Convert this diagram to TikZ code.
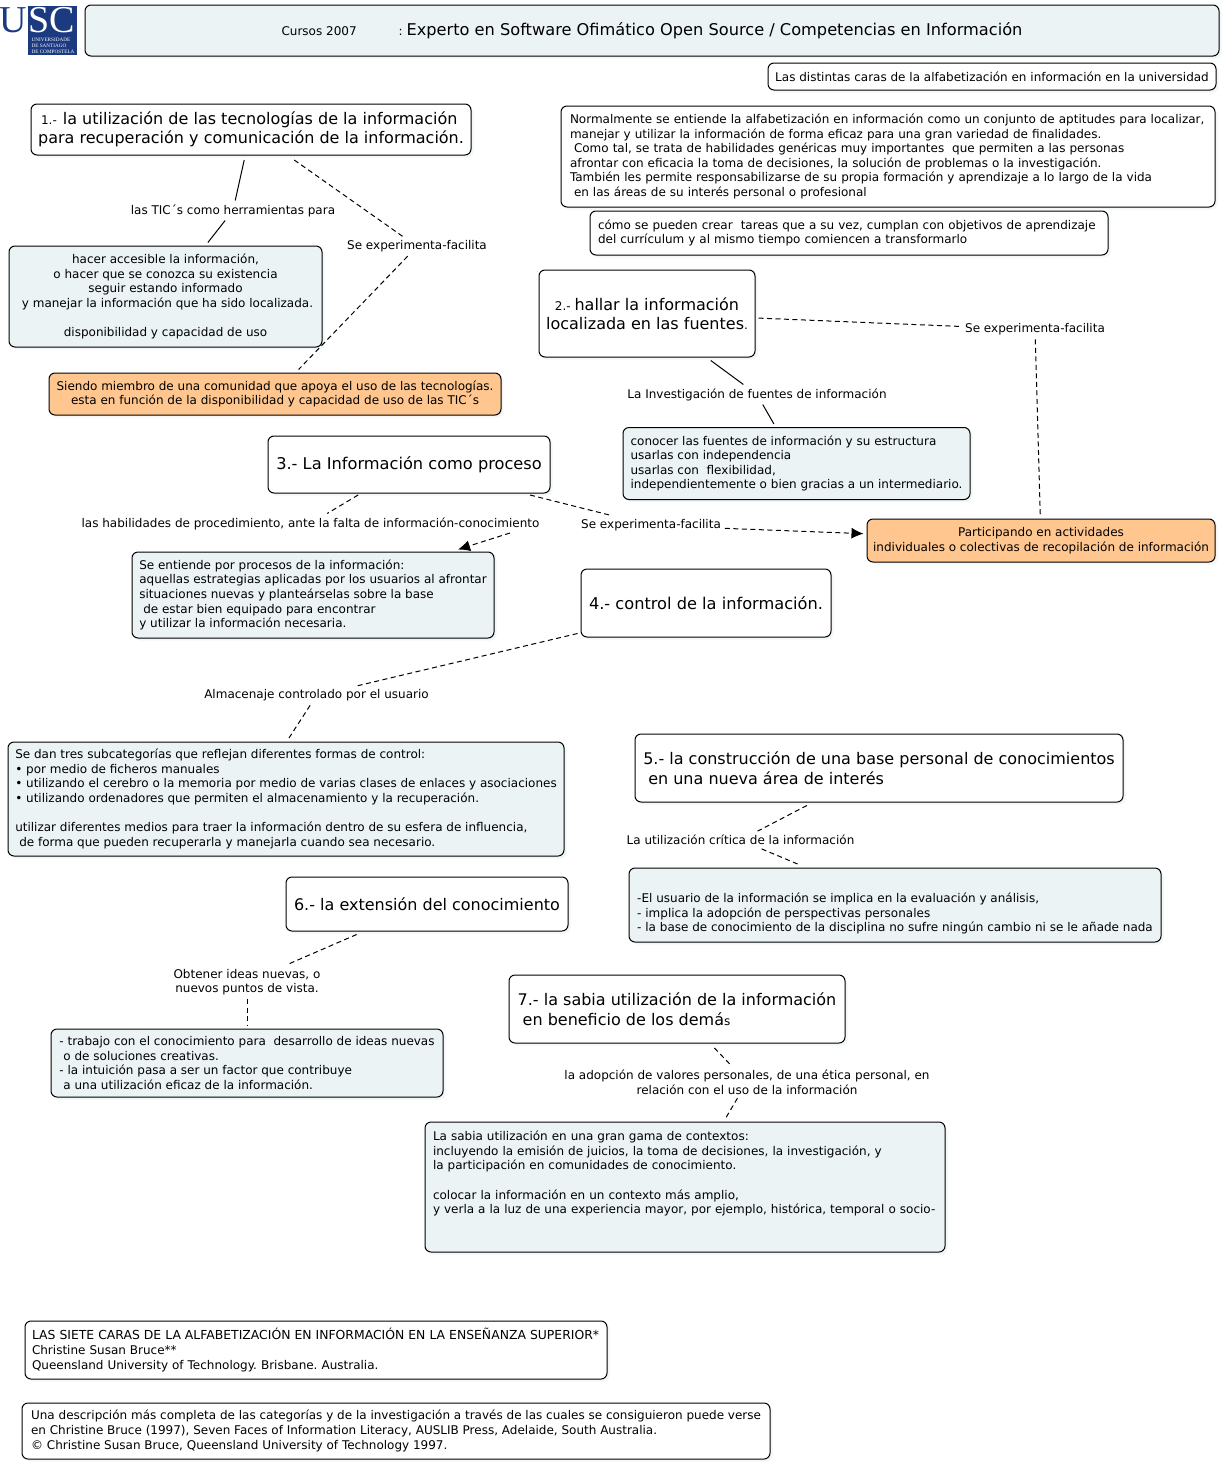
\documentclass[tikz,border=0pt]{standalone}
\usepackage{fontspec}
\setmainfont{DejaVu Sans}
\newfontfamily\logofont{Liberation Serif}
\usetikzlibrary{arrows.meta,shadows}
\definecolor{paleblue}{HTML}{EBF3F5}
\definecolor{paleorange}{HTML}{FFC78F}
\definecolor{uscnavy}{HTML}{1B3A80}
\newcommand{\smtxt}[1]{{\fontsize{12}{14.6}\selectfont #1}}
\newcommand{\blankline}{\rule{0pt}{12pt}}
\frenchspacing
\begin{document}
\begin{tikzpicture}[
    x=1pt, y=-1pt,
    txtsmall/.style={font=\fontsize{12}{14.6}\selectfont},
    txtlarge/.style={font=\fontsize{16}{19.5}\selectfont},
    txtwide/.style={font=\fontsize{16.2}{19.5}\selectfont},
    boxsize/.style 2 args={minimum width=#1, minimum height=#2},
    card/.style={draw, rounded corners=6pt, line width=1pt, inner sep=1pt, outer sep=3.5pt,
      general shadow={shadow xshift=2.5pt, shadow yshift=-2.5pt, fill=paleblue!70}},
    concept/.style={card, fill=white, txtlarge, align=left},
    note/.style={card, fill=white, txtsmall, align=left},
    detail/.style={card, fill=paleblue, txtsmall, align=left},
    result/.style={card, fill=paleorange, txtsmall, align=center},
    linklabel/.style={txtsmall, align=center, inner sep=1pt, outer sep=3pt},
    link/.style={line width=1pt},
    dashlink/.style={link, dash pattern=on 5pt off 3.5pt},
    tip/.style={-{Latex[length=12pt,width=11pt]}}
  ]
  \useasboundingbox (0,0) rectangle (1224,1467);

  % logo
  \fill[uscnavy] (28,6) rectangle (77,55);
  \node[text=uscnavy, font=\logofont\fontsize{38}{38}\selectfont, inner sep=0pt] at (13.5,20) (logoU) {U};
  \node[text=white, font=\logofont\fontsize{38}{38}\selectfont, inner sep=0pt] at (52,20) (logoSC) {SC};
  \node[text=white, font=\logofont\fontsize{5.2}{6}\selectfont, align=left, inner sep=0pt] at (53,46) (logoname)
    {UNIVERSIDADE\\DE SANTIAGO\\DE COMPOSTELA};

  % header
  \node[concept, txtwide, fill=paleblue, align=center, boxsize={1134}{51}] at (652,30.5) (title)
    {\smtxt{Cursos 2007\hspace{42pt}: }Experto en Software Ofimático Open Source / Competencias en Información};
  \node[note, boxsize={448}{27}] at (992,76.5) (subtitle)
    {Las distintas caras de la alfabetización en información en la universidad};
  \node[note, boxsize={654}{101}, text width=636] at (888,156.5) (intro)
    {Normalmente se entiende la alfabetización en información como un conjunto de aptitudes para localizar,\\
     manejar y utilizar la información de forma eficaz para una gran variedad de finalidades.\\
     \hspace*{4pt}Como tal, se trata de habilidades genéricas muy importantes\ \ que permiten a las personas\\
     afrontar con eficacia la toma de decisiones, la solución de problemas o la investigación.\\
     También les permite responsabilizarse de su propia formación y aprendizaje a lo largo de la vida\\
     \hspace*{4pt}en las áreas de su interés personal o profesional};
  \node[note, boxsize={518}{44}, text width=502] at (849,233) (tasks)
    {cómo se pueden crear\ \ tareas que a su vez, cumplan con objetivos de aprendizaje\\
     del currículum y al mismo tiempo comiencen a transformarlo};

  % draw concepts
  \node[concept, boxsize={440}{51}, outer sep=5pt] at (251,129.5) (c1)
    {\hspace*{3pt}\smtxt{1.-}\hspace{6pt}la utilización de las tecnologías de la información\\
     para recuperación y comunicación de la información.};
  \node[concept, align=center, boxsize={216}{87}] at (647,313.5) (c2)
    {\smtxt{2.- }hallar la información\\localizada en las fuentes\smtxt{.}};
  \node[concept, txtwide, boxsize={282}{57}, outer sep=2pt] at (409,464.5) (c3) {3.- La Información como proceso};
  \node[concept, txtwide, boxsize={250}{68}] at (706,603) (c4) {4.- control de la información.};
  \node[concept, boxsize={488}{68}] at (879,768) (c5)
    {5.- la construcción de una base personal de conocimientos\\
     \hspace*{5pt}en una nueva área de interés};
  \node[concept, boxsize={282}{54}] at (427,904) (c6) {6.- la extensión del conocimiento};
  \node[concept, boxsize={336}{68}, outer sep=5pt] at (677,1009) (c7)
    {7.- la sabia utilización de la información\\
     \hspace*{5pt}en beneficio de los demá\smtxt{s}};

  % draw details
  \node[detail, align=center, boxsize={313}{101}] at (165.5,296.5) (b1)
    {hacer accesible la información,\\
     o hacer que se conozca su existencia\\
     seguir estando informado\\
     \hspace*{4pt}y manejar la información que ha sido localizada.\\
     \blankline\\
     disponibilidad y capacidad de uso};
  \node[detail, boxsize={347}{72}] at (796.5,463.5) (b2)
    {conocer las fuentes de información y su estructura\\
     usarlas con independencia\\
     usarlas con\ \ flexibilidad,\\
     independientemente o bien gracias a un intermediario.};
  \node[detail, boxsize={362}{86}] at (313,595) (b3)
    {Se entiende por procesos de la información:\\
     aquellas estrategias aplicadas por los usuarios al afrontar\\
     situaciones nuevas y planteárselas sobre la base\\
     \hspace*{4pt}de estar bien equipado para encontrar\\
     y utilizar la información necesaria.};
  \node[detail, boxsize={556}{114}] at (286,799) (b4)
    {Se dan tres subcategorías que reflejan diferentes formas de control:\\
     • por medio de ficheros manuales\\
     • utilizando el cerebro o la memoria por medio de varias clases de enlaces y asociaciones\\
     • utilizando ordenadores que permiten el almacenamiento y la recuperación.\\
     \blankline\\
     utilizar diferentes medios para traer la información dentro de su esfera de influencia,\\
     \hspace*{4pt}de forma que pueden recuperarla y manejarla cuando sea necesario.};
  \node[detail, boxsize={532}{74}] at (895,905) (b5)
    {\blankline\\
     -El usuario de la información se implica en la evaluación y análisis,\\
     - implica la adopción de perspectivas personales\\
     - la base de conocimiento de la disciplina no sufre ningún cambio ni se le añade nada};
  \node[detail, boxsize={392}{68}] at (247,1063) (b6)
    {- trabajo con el conocimiento para\ \ desarrollo de ideas nuevas\\
     \hspace*{4pt}o de soluciones creativas.\\
     - la intuición pasa a ser un factor que contribuye\\
     \hspace*{4pt}a una utilización eficaz de la información.};
  \node[detail, boxsize={520}{130}, text width=504] at (685,1187) (b7)
    {La sabia utilización en una gran gama de contextos:\\
     incluyendo la emisión de juicios, la toma de decisiones, la investigación, y\\
     la participación en comunidades de conocimiento.\\
     \blankline\\
     colocar la información en un contexto más amplio,\\
     y verla a la luz de una experiencia mayor, por ejemplo, histórica, temporal o socio-\\
     \blankline\\
     \blankline};

  % draw results
  \node[result, boxsize={452}{42}] at (275,394) (o1)
    {Siendo miembro de una comunidad que apoya el uso de las tecnologías.\\
     esta en función de la disponibilidad y capacidad de uso de las TIC´s};
  \node[result, boxsize={348}{43}] at (1041,540.5) (o2)
    {Participando en actividades\\
     individuales o colectivas de recopilación de información};

  % draw references
  \node[note, boxsize={582}{58}, text width=568] at (316,1350) (r1)
    {{\fontsize{12.4}{14.6}\selectfont LAS SIETE CARAS DE LA ALFABETIZACIÓN EN INFORMACIÓN EN LA ENSEÑANZA SUPERIOR*}\\
     Christine Susan Bruce**\\
     Queensland University of Technology. Brisbane. Australia.};
  \node[note, boxsize={748}{56}] at (396,1431) (r2)
    {Una descripción más completa de las categorías y de la investigación a través de las cuales se consiguieron puede verse\\
     en Christine Bruce (1997), Seven Faces of Information Literacy, AUSLIB Press, Adelaide, South Australia.\\
     © Christine Susan Bruce, Queensland University of Technology 1997.};

  % draw labels
  \node[linklabel] at (233,210.5) (l1) {las TIC´s como herramientas para};
  \node[linklabel] at (417,246.5) (l2) {Se experimenta-facilita};
  \node[linklabel] at (1035,329.5) (l3) {Se experimenta-facilita};
  \node[linklabel] at (757,394.5) (l4) {La Investigación de fuentes de información};
  \node[linklabel] at (310.5,523.5) (l5) {las habilidades de procedimiento, ante la falta de información-conocimiento};
  \node[linklabel] at (651,525.5) (l6) {Se experimenta-facilita};
  \node[linklabel] at (316.5,695.5) (l7) {Almacenaje controlado por el usuario};
  \node[linklabel] at (740.5,840) (l8) {La utilización crítica de la información};
  \node[linklabel] at (247,982) (l9) {Obtener ideas nuevas, o\\nuevos puntos de vista.};
  \node[linklabel] at (747,1082) (l10)
    {la adopción de valores personales, de una ética personal, en\\relación con el uso de la información};
  \coordinate (l5out) at (510,533);
  \coordinate (b3in) at (458,549.5);
  \coordinate (b4in) at (288,739.5);

  % draw connections
  \foreach \src/\dst in {c1/l1,l1/b1,c2/l4,l4/b2}{
    \draw[link] (\src) -- (\dst);}
  \foreach \src/\dst in {c1/l2,l2/o1,c2/l3,l3/o2,c3/l5,c3/l6,c4/l7,l7/b4in,c5/l8,l8/b5,c6/l9,l9/b6,c7/l10,l10/b7}{
    \draw[dashlink] (\src) -- (\dst);}
  \draw[dashlink,tip] (l5out) -- (b3in);
  \draw[dashlink,tip] (l6) -- (o2);
\end{tikzpicture}
\end{document}
